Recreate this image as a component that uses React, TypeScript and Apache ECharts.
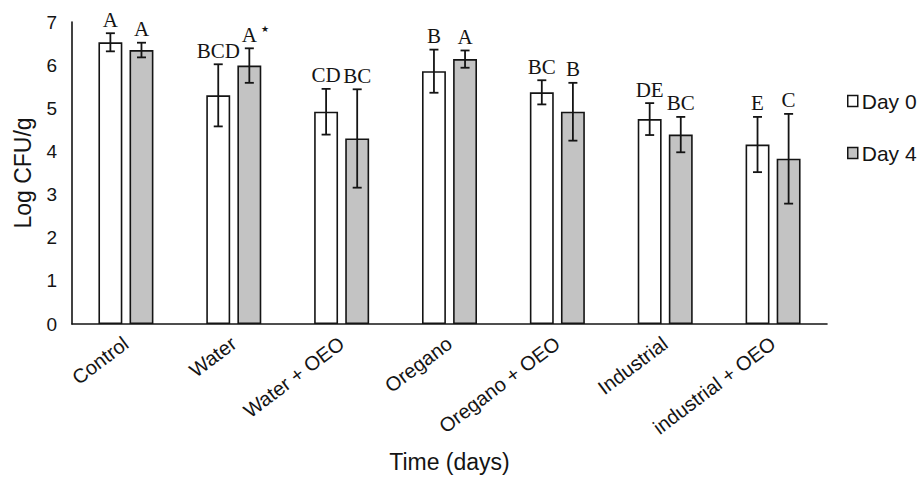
import React, { useEffect, useRef } from "react";
import * as echarts from "echarts";

const categories = ["Control", "Water", "Water + OEO", "Oregano", "Oregano + OEO", "Industrial", "industrial + OEO"];
const day0Values = [6.53, 5.3, 4.92, 5.86, 5.37, 4.75, 4.16];
const day0Errors = [0.21, 0.72, 0.53, 0.5, 0.28, 0.37, 0.64];
const day0Letters = ["A", "BCD", "CD", "B", "BC", "DE", "E"];
const day4Values = [6.35, 5.99, 4.3, 6.14, 4.92, 4.39, 3.83];
const day4Errors = [0.17, 0.4, 1.14, 0.2, 0.67, 0.41, 1.04];
const day4Letters = ["A", "A*", "BC", "A", "B", "BC", "C"];
const yTicks = [0, 7, 1];

const SANS = "'Liberation Sans', Arial, sans-serif";
const SERIF = "'Liberation Serif', 'Times New Roman', serif";
const INK = "#141414";
const BAR_CAT_GAP = 0.49;
const BAR_GAP = 0.3;

function makeErrorSeries(name: string, values: number[], errors: number[], letters: string[], side: number) {
  return {
    type: "custom",
    name: name + " err",
    z: 5,
    silent: true,
    data: values.map((v, i) => [i, v, errors[i]]),
    encode: { x: 0, y: 1 },
    renderItem: (params: any, api: any) => {
      const i = params.dataIndex;
      const idx = api.value(0);
      const val = api.value(1);
      const err = api.value(2);
      const cw = api.size([1, 0])[0];
      const w = (cw * (1 - BAR_CAT_GAP)) / (2 + BAR_GAP);
      const off = side * ((1 + BAR_GAP) / 2) * w;
      const top = api.coord([idx, val + err]);
      const bot = api.coord([idx, val - err]);
      const x = top[0] + off;
      const cap = 4.5;
      const ls = { stroke: INK, lineWidth: 1.8 };
      const raw = letters[i];
      const hasStar = raw.endsWith("*");
      const txt = hasStar ? raw.slice(0, -1) + "{s|★}" : raw;
      return {
        type: "group",
        children: [
          { type: "line", shape: { x1: x, y1: top[1], x2: x, y2: bot[1] }, style: ls },
          { type: "line", shape: { x1: x - cap, y1: top[1], x2: x + cap, y2: top[1] }, style: ls },
          { type: "line", shape: { x1: x - cap, y1: bot[1], x2: x + cap, y2: bot[1] }, style: ls },
          {
            type: "text",
            x: hasStar ? x + 6 : x,
            y: top[1] - 3,
            style: {
              text: txt,
              fontFamily: SERIF,
              fontSize: 21,
              fill: INK,
              align: "center",
              verticalAlign: "bottom",
              rich: { s: { fontSize: 9, fontFamily: SANS, fill: INK, padding: [0, 0, 11, 4] } },
            },
          },
        ],
      };
    },
  };
}

export default function App() {
  const ref = useRef<HTMLDivElement>(null);
  useEffect(() => {
    if (!ref.current) return;
    const chart = echarts.init(ref.current, undefined, { renderer: "svg" });
    chart.setOption({
      animation: false,
      backgroundColor: "#ffffff",
      grid: { left: 72, right: 93, top: 22, bottom: 148, containLabel: false },
      legend: {
        orient: "vertical",
        left: 842,
        top: 84,
        itemWidth: 10,
        itemHeight: 11,
        itemGap: 28,
        icon: "rect",
        textStyle: { fontFamily: SANS, fontSize: 21, lineHeight: 24, color: INK, padding: [0, 0, 0, -1] },
        data: [
          { name: "Day 0", itemStyle: { color: "#ffffff", borderColor: INK, borderWidth: 1.5 } },
          { name: "Day 4", itemStyle: { color: "#c3c3c3", borderColor: INK, borderWidth: 1.5 } },
        ],
      },
      xAxis: {
        type: "category",
        data: categories,
        name: "Time (days)",
        nameLocation: "middle",
        nameGap: 126,
        nameTextStyle: { fontFamily: SANS, fontSize: 23, color: INK },
        axisLine: { show: true, lineStyle: { color: INK, width: 1.6 } },
        axisTick: { show: false },
        axisLabel: { rotate: 37, fontFamily: SANS, fontSize: 20, color: INK, margin: 17, interval: 0 },
      },
      yAxis: {
        type: "value",
        min: yTicks[0],
        max: yTicks[1],
        interval: yTicks[2],
        name: "Log CFU/g",
        nameLocation: "middle",
        nameGap: 38,
        nameTextStyle: { fontFamily: SANS, fontSize: 23, color: INK },
        axisLine: { show: true, lineStyle: { color: INK, width: 1.6 } },
        axisTick: { show: false },
        splitLine: { show: false },
        axisLabel: { fontFamily: SANS, fontSize: 19, color: INK, margin: 15 },
      },
      series: [
        {
          type: "bar",
          name: "Day 0",
          data: day0Values,
          barCategoryGap: BAR_CAT_GAP * 100 + "%",
          barGap: BAR_GAP * 100 + "%",
          itemStyle: { color: "#ffffff", borderColor: INK, borderWidth: 1.6 },
        },
        {
          type: "bar",
          name: "Day 4",
          data: day4Values,
          barCategoryGap: BAR_CAT_GAP * 100 + "%",
          barGap: BAR_GAP * 100 + "%",
          itemStyle: { color: "#c3c3c3", borderColor: INK, borderWidth: 1.6 },
        },
        makeErrorSeries("Day 0", day0Values, day0Errors, day0Letters, -1),
        makeErrorSeries("Day 4", day4Values, day4Errors, day4Letters, 1),
      ],
    });
    return () => chart.dispose();
  }, []);
  return <div ref={ref} style={{ width: 920, height: 478, position: "absolute", left: 0, top: 0 }} />;
}
